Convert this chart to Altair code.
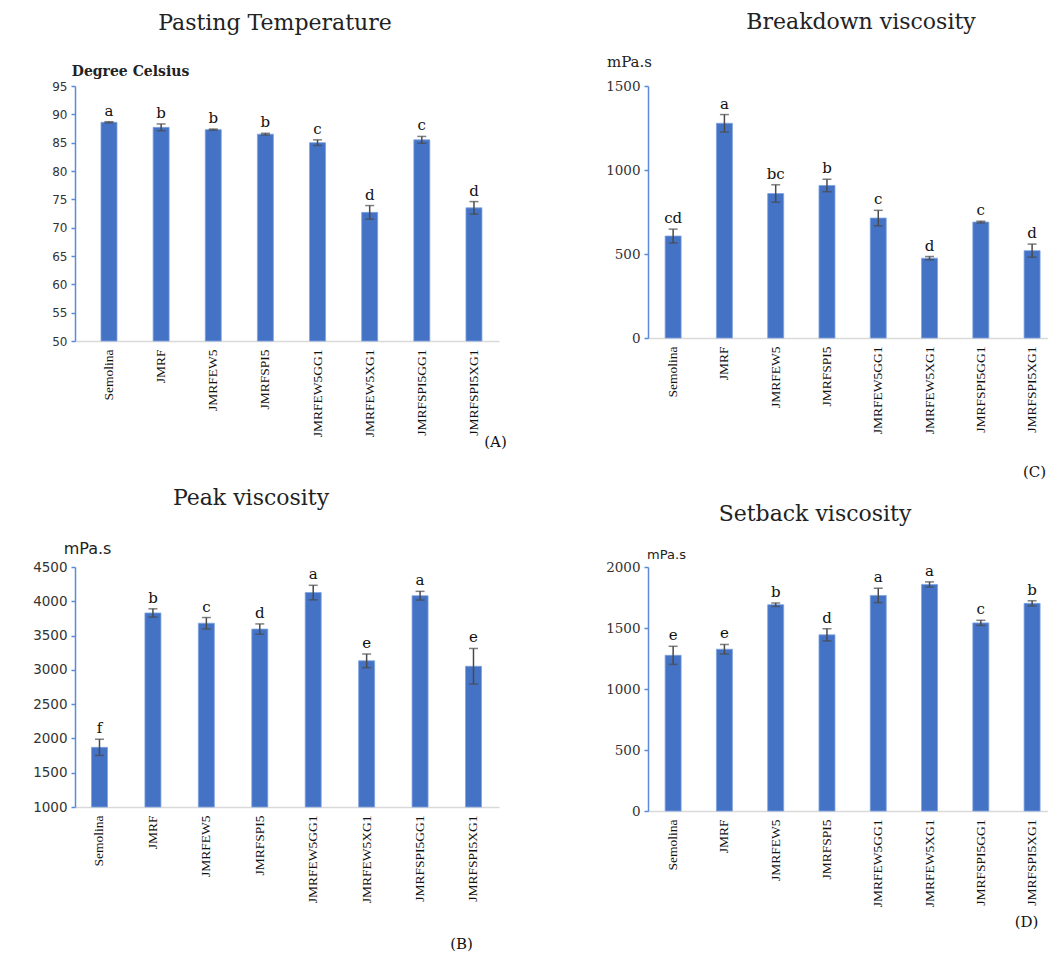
import altair as alt
import pandas as pd

categories = ["Semolina", "JMRF", "JMRFEW5", "JMRFSPI5", "JMRFEW5GG1",
              "JMRFEW5XG1", "JMRFSPI5GG1", "JMRFSPI5XG1"]

# (A) Pasting temperature
pt_values = [88.6, 87.7, 87.3, 86.5, 85.0, 72.7, 85.5, 73.5]
pt_errors = [0.1, 0.6, 0.1, 0.15, 0.5, 1.2, 0.6, 1.1]
pt_letters = ["a", "b", "b", "b", "c", "d", "c", "d"]

# (B) Peak viscosity
pv_values = [1870, 3830, 3680, 3595, 4127, 3132, 4081, 3052]
pv_errors = [118, 60, 83, 75, 106, 99, 64, 260]
pv_letters = ["f", "b", "c", "d", "a", "e", "a", "e"]

# (C) Breakdown viscosity
bd_values = [607, 1278, 860, 908, 714, 475, 690, 520]
bd_errors = [41, 52, 52, 37, 46, 10, 5, 39]
bd_letters = ["cd", "a", "bc", "b", "c", "d", "c", "d"]

# (D) Setback viscosity
sb_values = [1276, 1326, 1691, 1444, 1767, 1857, 1542, 1702]
sb_errors = [74, 39, 14, 50, 59, 21, 21, 21]
sb_letters = ["e", "e", "b", "d", "a", "a", "c", "b"]

BAR = "#4472C4"
ERR = "#4a4a4a"
YAX = "#5b8ad8"


def panel(values, errors, letters, dom, ticks, width, height, title, tdx, toff,
          ytitle, yt_font, yt_size, yt_weight, yt_x, yt_y,
          ylab_font, ylab_size, tag, tag_x, tag_y,
          pin=0.1, pout=0.05, palign=0.5):
    df = pd.DataFrame({"cat": categories, "v": values, "e": errors, "lab": letters})
    df["lo"] = df["v"] - df["e"]
    df["hi"] = df["v"] + df["e"]
    df["base"] = dom[0]

    xsc = alt.Scale(paddingInner=pin, paddingOuter=pout, align=palign)
    xax = alt.Axis(labelAngle=270, labelFont="Liberation Serif",
                   labelFontSize=13.5, labelColor="#111111",
                   labelPadding=8, ticks=False, domainColor="#d9d9d9",
                   domainWidth=1.5, title=tag, titleFont="DejaVu Serif",
                   titleFontSize=15, titleFontWeight="normal",
                   titleColor="#111111", titleAlign="center",
                   titleBaseline="middle", titleX=tag_x, titleY=tag_y)
    ysc = alt.Scale(domain=dom, nice=False, zero=False)
    yax = alt.Axis(values=ticks, format="d", labelOverlap=False,
                   grid=False, domainColor=YAX,
                   domainWidth=1.5, tickColor=YAX, tickSize=4,
                   tickWidth=1.5, labelFont=ylab_font,
                   labelFontSize=ylab_size, labelColor="#333333",
                   labelPadding=4, title=ytitle, titleAngle=0,
                   titleFont=yt_font, titleFontSize=yt_size,
                   titleFontWeight=yt_weight, titleColor="#222222",
                   titleAlign="center", titleBaseline="alphabetic",
                   titleX=yt_x, titleY=yt_y)
    xs = alt.X("cat:N", sort=categories, scale=xsc, axis=xax)
    base = alt.Chart(df)
    bars = base.mark_bar(color=BAR, size=16, stroke="#7fa3e0",
                         strokeWidth=0.8).encode(
        x=xs, y=alt.Y("v:Q", scale=ysc, axis=yax), y2=alt.Y2("base:Q"))
    rule = base.mark_rule(color=ERR, strokeWidth=1.5).encode(
        x=xs, y=alt.Y("lo:Q", scale=ysc, axis=yax), y2=alt.Y2("hi:Q"))
    cap_hi = base.mark_tick(color=ERR, size=9, thickness=1.5).encode(
        x=xs, y=alt.Y("hi:Q", scale=ysc, axis=yax))
    cap_lo = base.mark_tick(color=ERR, size=9, thickness=1.5).encode(
        x=xs, y=alt.Y("lo:Q", scale=ysc, axis=yax))
    txt = base.mark_text(font="DejaVu Serif", fontSize=15, color="#111111",
                         baseline="alphabetic", dy=-6).encode(
        x=xs, y=alt.Y("hi:Q", scale=ysc, axis=yax), text="lab:N")
    return alt.layer(bars, rule, cap_hi, cap_lo, txt).properties(
        width=width, height=height,
        title=alt.TitleParams(title, font="DejaVu Serif", fontSize=22,
                              fontWeight="normal", color="#222222",
                              anchor="middle", frame="group", dx=tdx,
                              offset=toff))


A = panel(pt_values, pt_errors, pt_letters, [50, 95], list(range(50, 96, 5)),
          424, 255, "Pasting Temperature", -12, 29,
          "Degree Celsius", "DejaVu Serif", 14, "bold", 55, -11,
          "DejaVu Sans", 12, "(A)", 420, 100,
          pin=0.1, pout=0.116, palign=0.87)
C = panel(bd_values, bd_errors, bd_letters, [0, 1500], [0, 500, 1000, 1500],
          400, 252, "Breakdown viscosity", 13, 20,
          "mPa.s", "DejaVu Serif", 15, "normal", -19, -20,
          "DejaVu Serif", 13.5, "(C)", 386, 133,
          pin=0.5, pout=0.15, palign=0.8)
B = panel(pv_values, pv_errors, pv_letters, [1000, 4500],
          list(range(1000, 4501, 500)),
          424, 240, "Peak viscosity", -36, 30,
          "mPa.s", "DejaVu Sans", 16, "normal", 12, -14,
          "DejaVu Sans", 13.5, "(B)", 386, 136,
          pin=0.3, pout=0.118, palign=0.46)
D = panel(sb_values, sb_errors, sb_letters, [0, 2000], [0, 500, 1000, 1500, 2000],
          400, 244, "Setback viscosity", -33, 22,
          "mPa.s", "DejaVu Sans", 13, "normal", 18, -9,
          "DejaVu Serif", 13.5, "(D)", 378, 110,
          pin=0.5, pout=0.15, palign=0.8)

chart = alt.concat(A, C, B, D, columns=2, spacing={"row": 226, "column": 149},
                   bounds="flush", align="each").properties(
    padding={"left": 24, "top": 3, "right": 0, "bottom": 5},
    background="white"
).configure_view(stroke="transparent", strokeWidth=0)

chart.save("out.html", embed_options={"renderer": "svg", "actions": False})
